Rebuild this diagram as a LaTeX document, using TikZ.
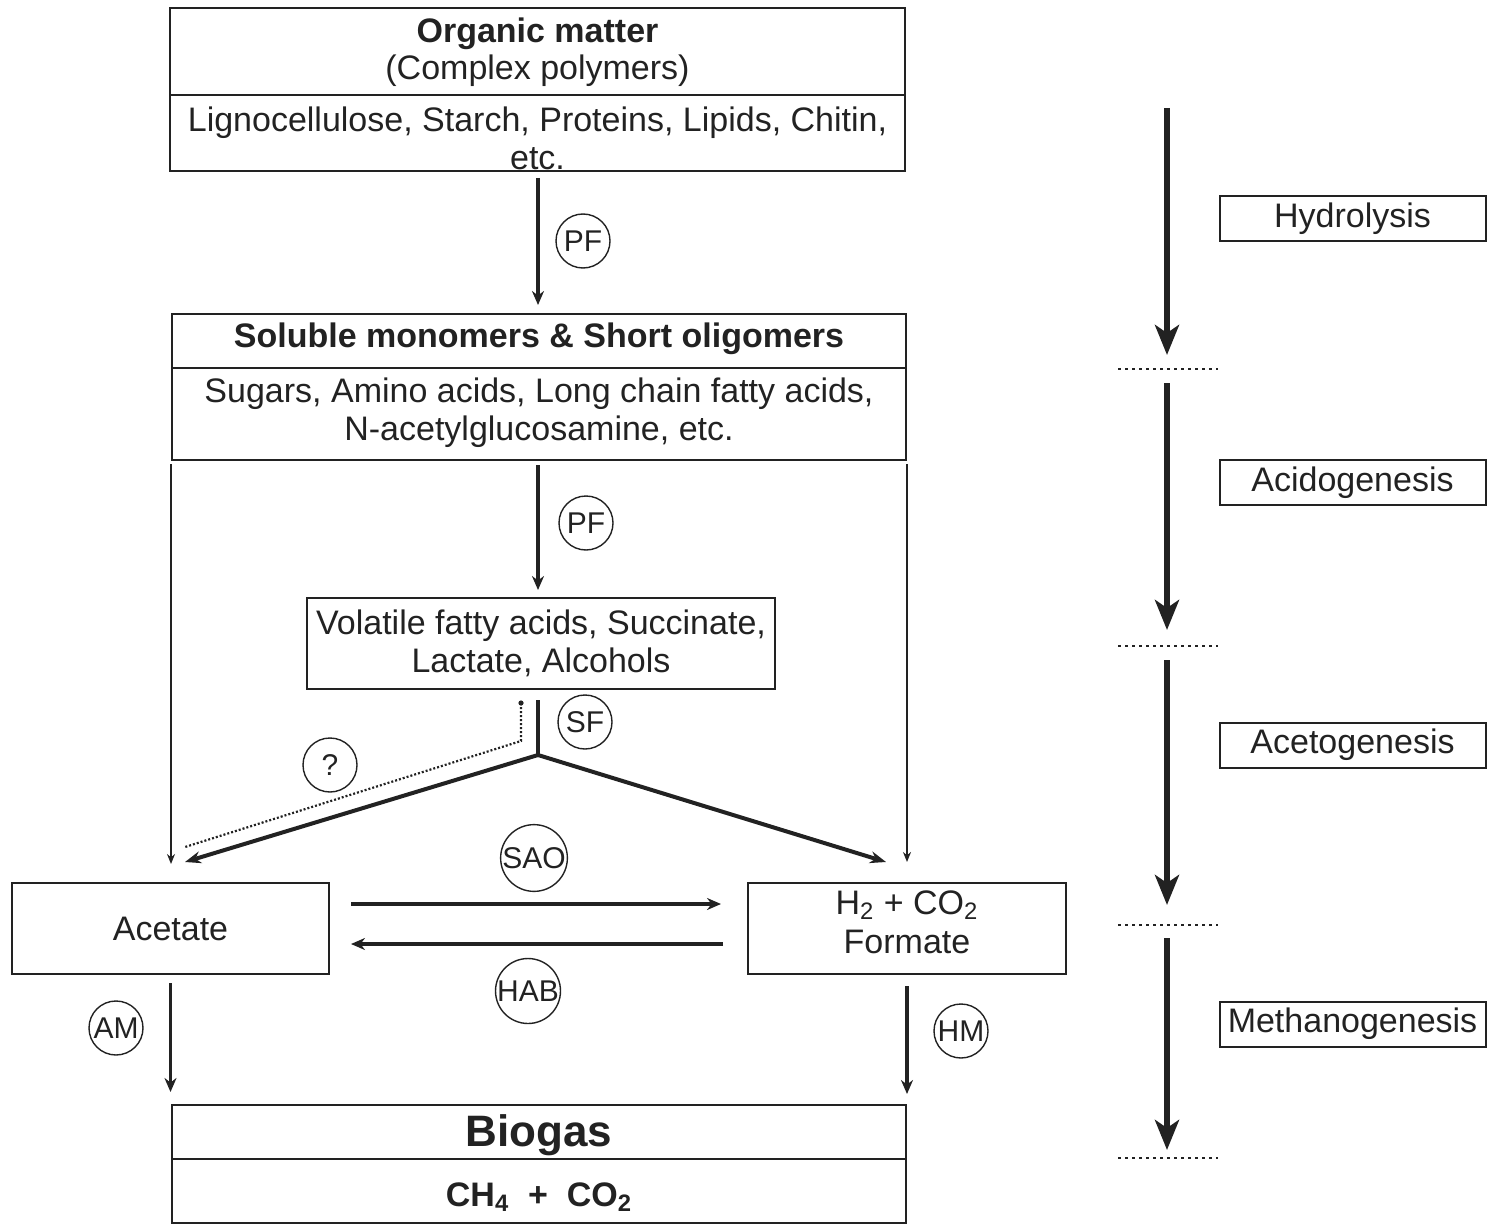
\documentclass[tikz,border=0pt]{standalone}
\usepackage{fontspec}
\setmainfont{Liberation Sans}
\usetikzlibrary{arrows.meta,calc}
\definecolor{ink}{HTML}{222222}
\begin{document}
\begin{tikzpicture}[x=0.5pt,y=-0.5pt,
  box/.style={draw=ink, line width=1pt, inner sep=0pt},
  txt/.style={font=\fontsize{17}{19}\selectfont, align=center, text=ink, inner sep=0pt},
  ttl/.style={txt, font=\fontsize{17}{19}\selectfont\bfseries},
  tbox/.style={box, txt},
  stage/.style={draw=ink, line width=1pt, minimum width=133pt, minimum height=22.5pt, txt},
  lab/.style={draw=ink, circle, line width=0.7pt, minimum size=27pt, inner sep=0pt, font=\fontsize{15}{15}\selectfont, text=ink},
  labbig/.style={lab, minimum size=32pt},
  marr/.style={draw=ink, line width=1.65pt, -{Stealth[length=7pt,width=6pt]}},
  thin/.style={draw=ink, line width=1pt, -{Stealth[length=5pt,width=4pt]}},
  fork/.style={draw=ink, line width=2pt, -{Stealth[length=8pt,width=6pt]}},
  big/.style={draw=ink, line width=3pt, -{Stealth[length=15pt,width=12pt,inset=4pt]}},
  sep/.style={draw=ink, line width=1.4pt, dash pattern=on 1.4pt off 2.1pt},
  dots/.style={draw=ink, line width=1.1pt, dash pattern=on 1pt off 1pt},
  divider/.style={draw=ink, line width=1pt}
]
\useasboundingbox (0,0) rectangle (1493,1225);

% Organic matter box
\node[box, minimum width=367.5pt, minimum height=81.5pt] (b1) at (537.5,89.5) {};
\draw[divider] ([yshift=-44pt]b1.north west) -- ([yshift=-44pt]b1.north east);
\node[ttl] (t1a) at (537.5,34) {Organic matter};
\node[txt] (t1b) at (537.5,71) {(Complex polymers)};
\node[txt] (t1c) at (537.5,138) {Lignocellulose, Starch, Proteins, Lipids, Chitin,\\etc.};

% Soluble monomers box
\node[box, minimum width=367pt, minimum height=73pt] (b2) at (539,387) {};
\draw[divider] ([yshift=-27.5pt]b2.north west) -- ([yshift=-27.5pt]b2.north east);
\node[ttl] (t2a) at (539,339) {Soluble monomers \& Short oligomers};
\node[txt] (t2b) at (539,413) {Sugars, Amino acids, Long chain fatty acids,\\N-acetylglucosamine, etc.};

% Volatile fatty acids box
\node[tbox, minimum width=234pt, minimum height=45.5pt] (b3) at (541,643.5) {Volatile fatty acids, Succinate,\\Lactate, Alcohols};

% Acetate and H2 boxes
\node[tbox, minimum width=158.5pt, minimum height=45.5pt] (ac) at (170.5,928.5) {Acetate};
\node[box, minimum width=159pt, minimum height=45.5pt] (h2) at (907,928.5) {};
\node[txt, font=\fontsize{17}{19.5}\selectfont] (h2t) at (907,922) {H\textsubscript{2} + CO\textsubscript{2}\\Formate};

% Biogas box
\node[box, minimum width=367pt, minimum height=59pt] (bg) at (539,1164) {};
\draw[divider] ([yshift=-27.5pt]bg.north west) -- ([yshift=-27.5pt]bg.north east);
\node[txt, font=\fontsize{22}{24}\selectfont\bfseries] (bgt) at (539,1135) {Biogas};
\node[ttl] (bgf) at (539,1197) {CH\textsubscript{4} \ + \ CO\textsubscript{2}};

% main arrows
\coordinate (p1s) at (538,171);
\coordinate (p1e) at (538,314);
\draw[marr, shorten <=3.5pt, shorten >=4.5pt] (p1s) -- (p1e);
\coordinate (p2s) at (538,460);
\coordinate (p2e) at (538,598);
\draw[marr, shorten <=2.5pt, shorten >=4pt] (p2s) -- (p2e);

\draw[thin, shorten <=1.5pt, shorten >=9pt] (b2.south west) -- (b2.south west |- ac.north);
\draw[thin, shorten <=1.5pt, shorten >=10pt] (b2.south east) -- (b2.south east |- h2.north);

% SF fork
\coordinate (sfs) at (538,689);
\coordinate (J) at (538,755);
\coordinate (aL) at (185,862);
\coordinate (aR) at (886,862);
\draw[draw=ink, line width=2pt, shorten <=5.5pt] (sfs) -- (J);
\draw[fork] (J) -- (aL);
\draw[fork] (J) -- (aR);

% dotted ? path
\coordinate (q0) at (521,703);
\coordinate (q1) at (521,741);
\coordinate (q2) at (185,847);
\draw[dots] (q0) -- (q1) -- (q2);
\fill[ink] (q0) circle (1.3pt);

% SAO / HAB arrows
\draw[marr, line width=1.75pt, shorten <=10.5pt, shorten >=13pt] ([yshift=12.25pt]ac.east) -- ([yshift=12.25pt]h2.west);
\draw[marr, line width=1.75pt, shorten <=12pt, shorten >=10.5pt] ([yshift=-7.75pt]h2.west) -- ([yshift=-7.75pt]ac.east);

% AM / HM arrows
\draw[marr, shorten <=4pt, shorten >=6pt] (ac.south) -- (ac.south |- bg.north);
\draw[marr, shorten <=5.5pt, shorten >=5pt] (h2.south) -- (h2.south |- bg.north);

% circled labels
\node[lab] (pf1) at (583,241) {PF};
\node[lab] (pf2) at (586,523) {PF};
\node[lab] (sf) at (585,722) {SF};
\node[lab] (qm) at (330,765) {?};
\node[labbig] (sao) at (534,858) {SAO};
\node[labbig] (hab) at (528,991) {HAB};
\node[lab] (am) at (116,1028) {AM};
\node[lab] (hm) at (961,1031) {HM};

% right side stages
\node[stage] (s1) at (1352.5,218.5) {Hydrolysis};
\node[stage] (s2) at (1352.5,482.5) {Acidogenesis};
\node[stage] (s3) at (1352.5,745) {Acetogenesis};
\node[stage] (s4) at (1352.5,1024) {Methanogenesis};

\coordinate (r1a) at (1167,108);
\coordinate (r1b) at (1167,355);
\coordinate (r2a) at (1167,383);
\coordinate (r2b) at (1167,630);
\coordinate (r3a) at (1167,660);
\coordinate (r3b) at (1167,905);
\coordinate (r4a) at (1167,938);
\coordinate (r4b) at (1167,1150);
\draw[big] (r1a) -- (r1b);
\draw[big] (r2a) -- (r2b);
\draw[big] (r3a) -- (r3b);
\draw[big] (r4a) -- (r4b);

\coordinate (d1a) at (1118,369); \coordinate (d1b) at (1218,369);
\coordinate (d2a) at (1118,646); \coordinate (d2b) at (1218,646);
\coordinate (d3a) at (1118,925); \coordinate (d3b) at (1218,925);
\coordinate (d4a) at (1118,1158); \coordinate (d4b) at (1218,1158);
\draw[sep] (d1a) -- (d1b);
\draw[sep] (d2a) -- (d2b);
\draw[sep] (d3a) -- (d3b);
\draw[sep] (d4a) -- (d4b);
\end{tikzpicture}
\end{document}
